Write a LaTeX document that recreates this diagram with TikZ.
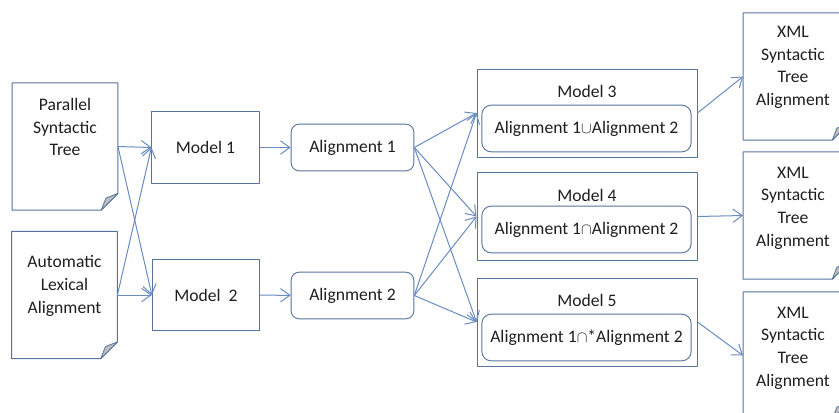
\documentclass[tikz,border=0pt]{standalone}
\usepackage{fontspec}
\setmainfont{Carlito}
\usetikzlibrary{arrows.meta,positioning}
\definecolor{boxblue}{RGB}{88,116,158}
\definecolor{arrblue}{RGB}{105,140,195}
\definecolor{foldgray}{RGB}{190,190,193}
\begin{document}
\begin{tikzpicture}[x=.75pt,y=-.75pt,>={Straight Barb[length=7pt,width=10pt]},line join=round,font=\fontsize{13.2}{17}\selectfont,
		doc/.style={minimum width=79pt,minimum height=95pt,inner sep=0pt},
		txt/.style={align=center,text=black!88,inner sep=0pt},
		model/.style={draw=boxblue,line width=.7pt,minimum width=80.5pt,minimum height=53.5pt,text=black!88},
		aligned/.style={draw=boxblue,line width=.7pt,rounded corners=6pt,minimum width=92pt,minimum height=35pt,text=black!88},
		outer/.style={draw=boxblue,line width=.7pt,minimum width=165pt,minimum height=66pt},
		inner/.style={draw=boxblue,line width=.7pt,rounded corners=7pt,minimum width=157pt,minimum height=35pt,text=black!88},
		arr/.style={->,draw=arrblue,line width=.75pt}]
			\def\fold{12.5pt}
			\fill[white] (0,0) rectangle (839,412);
			\clip (0,0) rectangle (839,412);
			\useasboundingbox (0,0) rectangle (839,412);
			\node[doc] (ptree) at (65,146.5) {};
			\node[doc] (lexal) at (64.5,295) {};
			\node[doc] (xml1) at (796,76.5) {};
			\node[doc] (xml2) at (796,215.5) {};
			\node[doc] (xml3) at (796,355.5) {};
			\foreach \d in {ptree,lexal,xml1,xml2,xml3}{
				\draw[boxblue,line width=.7pt] (\d.north west) -- (\d.north east) -- ([yshift=\fold]\d.south east) -- ([xshift=-\fold]\d.south east) -- (\d.south west) -- cycle;
				\filldraw[draw=boxblue,fill=foldgray,line width=.6pt] ([yshift=\fold]\d.south east) -- ([xshift=-\fold]\d.south east) -- ([shift={(-9pt,9pt)}]\d.south east) -- cycle;
			}
			\node[txt] (ptreetxt) at (65,127) {Parallel\\Syntactic\\Tree};
			\node[txt] (lexaltxt) at (64.5,286) {Automatic\\Lexical\\Alignment};
			\node[txt] (xml1txt) at (793,67.5) {XML\\Syntactic\\Tree\\Alignment};
			\node[txt] (xml2txt) at (793,208) {XML\\Syntactic\\Tree\\Alignment};
			\node[txt] (xml3txt) at (793,348) {XML\\Syntactic\\Tree\\Alignment};
			\node[model] (m1) at (205.5,147.5) {Model 1};
			\node[model] (m2) at (206,295) {Model~ 2};
			\node[aligned] (al1) at (352.5,147.5) {Alignment 1};
			\node[aligned] (al2) at (352.5,295.5) {Alignment 2};
			\node[outer] (mod3) at (587,113) {};
			\node[outer] (mod4) at (587,216.5) {};
			\node[outer] (mod5) at (587,322) {};
			\node[txt] (mod3lbl) at (587,91) {Model 3};
			\node[txt] (mod4lbl) at (587,195) {Model 4};
			\node[txt] (mod5lbl) at (587,300) {Model 5};
			\node[inner] (in3) at (586.5,128.5) {Alignment 1$\cup$Alignment 2};
			\node[inner] (in4) at (586.5,229.5) {Alignment 1$\cap$Alignment 2};
			\node[inner] (in5) at (586.5,337.5) {Alignment 1$\cap$*Alignment 2};
			\draw[arr] (ptree.east) -- (m1.west);
			\draw[arr] (ptree.east) -- (m2.west);
			\draw[arr] (lexal.east) -- (m1.west);
			\draw[arr] (lexal.east) -- (m2.west);
			\draw[arr] (m1) -- (al1);
			\draw[arr] (m2) -- (al2);
			\foreach \a in {al1,al2}
				\foreach \m in {mod3,mod4,mod5}
					\draw[arr] (\a.east) -- (\m.west);
			\draw[arr] (mod3.east) -- (xml1.west);
			\draw[arr] (mod4.east) -- (xml2.west);
			\draw[arr] (mod5.east) -- (xml3.west);
	\end{tikzpicture}
\end{document}
